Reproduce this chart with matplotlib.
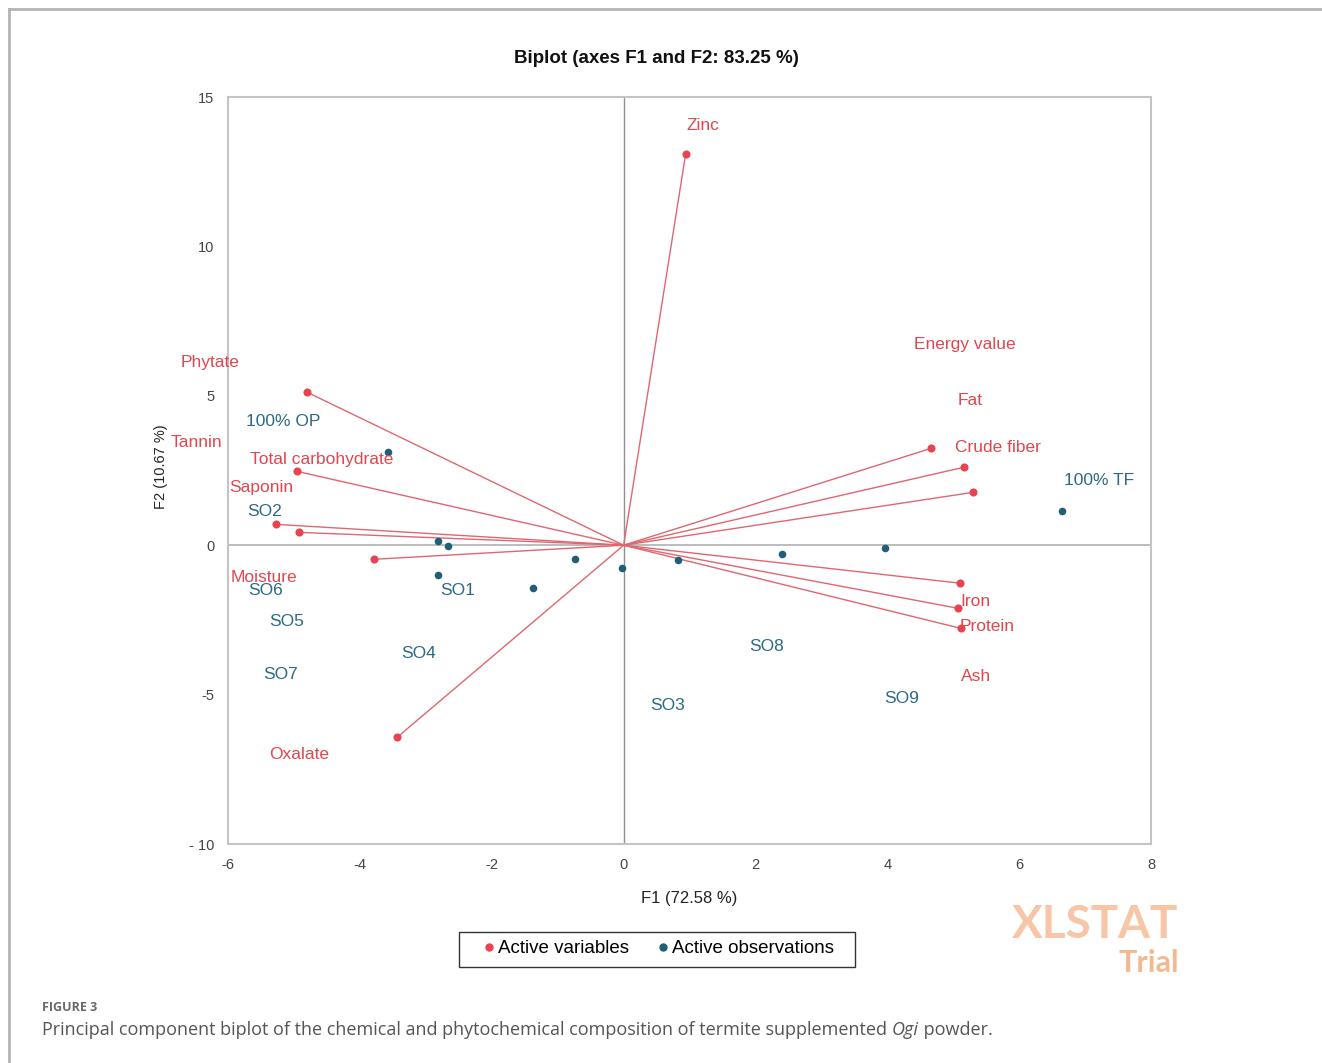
import matplotlib.pyplot as plt
from matplotlib.lines import Line2D
from matplotlib.patches import Rectangle

plt.rcParams['font.family'] = ['Liberation Sans', 'DejaVu Sans']
plt.rcParams['axes.unicode_minus'] = False

# === Active variables (F1, F2) and where XLSTAT put their labels
var_names = ["Zinc", "Phytate", "Tannin", "Total carbohydrate", "Saponin", "Moisture",
             "Oxalate", "Energy value", "Fat", "Crude fiber", "Iron", "Protein", "Ash"]
var_f1 = [0.94, -4.80, -4.92, -4.95, -5.28, -3.78, -3.43, 4.66, 5.16, 5.30, 5.10, 5.07, 5.11]
var_f2 = [13.08, 5.12, 0.43, 2.47, 0.70, -0.47, -6.42, 3.24, 2.61, 1.77, -1.27, -2.11, -2.78]
var_lab_x = [1.20, -6.28, -6.48, -4.58, -5.49, -5.45, -4.92, 5.17, 5.25, 5.68, 5.33, 5.52, 5.34]
var_lab_y = [14.05, 6.12, 3.44, 2.88, 1.94, -1.07, -6.99, 6.72, 4.85, 3.28, -1.87, -2.71, -4.38]

# === Active observations
obs_names = ["100% OP", "SO2", "SO6", "SO5", "SO7", "SO4", "SO1", "SO3", "SO8", "SO9", "100% TF"]
obs_f1 = [-3.57, -2.82, -2.66, -2.82, -1.38, -0.73, -0.02, 0.82, 2.40, 3.96, 6.65]
obs_f2 = [3.11, 0.13, -0.03, -1.00, -1.44, -0.47, -0.77, -0.50, -0.30, -0.10, 1.14]
obs_lab_x = [-5.16, -5.45, -5.43, -5.11, -5.20, -3.11, -2.52, 0.67, 2.17, 4.22, 7.21]
obs_lab_y = [4.15, 1.14, -1.51, -2.54, -4.31, -3.61, -1.51, -5.38, -3.38, -5.12, 2.17]

x_ticks = [-6, -4, -2, 0, 2, 4, 6, 8]
y_ticks = [-10, -5, 0, 5, 10, 15]
y_tick_labels = ["- 10", "-5", "0", "5", "10", "15"]

red = "#e8434f"
red_txt = "#e0474f"
blue = "#1f5f78"
blue_txt = "#2a6a82"

fig = plt.figure(figsize=(13.22, 10.63), dpi=100)
ax = fig.add_axes([0.1725, 0.2060, 0.6982, 0.7027])

ax.axhline(0, color="#b0b0b0", lw=1.2, zorder=1)
ax.axvline(0, color="#909090", lw=1.0, zorder=1)

for x, y in zip(var_f1, var_f2):
    ax.plot([0, x], [0, y], color="#e06670", lw=1.0, zorder=2)
ax.scatter(var_f1, var_f2, s=34, color=red, zorder=3, linewidths=0)
ax.scatter(obs_f1, obs_f2, s=30, color=blue, zorder=3, linewidths=0)

for n, x, y in zip(var_names, var_lab_x, var_lab_y):
    ax.text(x, y, n, color=red_txt, fontsize=12.5, ha="center", va="center", zorder=4)
for n, x, y in zip(obs_names, obs_lab_x, obs_lab_y):
    ax.text(x, y, n, color=blue_txt, fontsize=12.5, ha="center", va="center", zorder=4)

ax.set_xlim(-6, 8)
ax.set_ylim(-10, 15)
ax.set_xticks(x_ticks)
ax.set_yticks(y_ticks)
ax.set_yticklabels(y_tick_labels)
ax.tick_params(length=0, labelsize=10.5, colors="#444444", pad=10)
for s in ax.spines.values():
    s.set_color("#c4c4c4")
    s.set_linewidth(1.5)

ax.set_xlabel("F1 (72.58 %)", fontsize=12, color="#222222", labelpad=14)
fig.text(0.122, 0.561, "F2 (10.67 %)", rotation=90, fontsize=10.5,
         ha="center", va="center", color="#222222")
fig.text(0.4965, 0.9454, "Biplot (axes F1 and F2: 83.25 %)", fontsize=13.5,
         fontweight="bold", ha="center", va="center", color="#111111")

# legend with a hand-drawn frame (XLSTAT box is wider than the entries)
handles = [Line2D([], [], marker="o", ls="", color=red, markersize=5),
           Line2D([], [], marker="o", ls="", color=blue, markersize=5)]
fig.legend(handles, ["Active variables", "Active observations"], ncol=2,
           loc="center", bbox_to_anchor=(0.497, 0.1075), fontsize=13.5,
           frameon=False, handletextpad=0.0, handlelength=1.0, columnspacing=1.3)
fig.add_artist(Rectangle((459 / 1322, 1 - 967 / 1063), 396 / 1322, 35 / 1063,
                         transform=fig.transFigure, fill=False,
                         edgecolor="#333333", lw=1.0))

# watermark
fig.text(0.8915, 0.1295, "XLSTAT", fontsize=33, fontweight="bold", color="#f7c6a6",
         ha="right", va="center", family="Lato")
fig.text(0.8915, 0.094, "Trial", fontsize=22, fontweight="bold", color="#f3b890",
         ha="right", va="center", family="Lato")

# page frame and caption
fig.add_artist(Line2D([0.0065, 0.0065], [0, 0.9915], color="#b4b4b4", lw=2))
fig.add_artist(Line2D([0.0065, 1.0], [0.9915, 0.9915], color="#b4b4b4", lw=2))
fig.text(0.032, 0.0525, "FIGURE 3", fontsize=9, fontweight="bold", color="#6a6a6a",
         va="center", family="Open Sans")

cap_y = 0.0315
cap_size = 13
t1 = fig.text(0.032, cap_y, "Principal component biplot of the chemical and phytochemical "
              "composition of termite supplemented ", fontsize=cap_size, color="#555555",
              va="center", family="Open Sans")
fig.canvas.draw()
bb = t1.get_window_extent()
t2 = fig.text(bb.x1 / fig.bbox.width, cap_y, "Ogi", fontsize=cap_size, color="#555555",
              va="center", family="Open Sans", style="italic")
fig.canvas.draw()
bb2 = t2.get_window_extent()
fig.text(bb2.x1 / fig.bbox.width, cap_y, " powder.", fontsize=cap_size, color="#555555",
         va="center", family="Open Sans")

fig.savefig("out.png", dpi=100)
